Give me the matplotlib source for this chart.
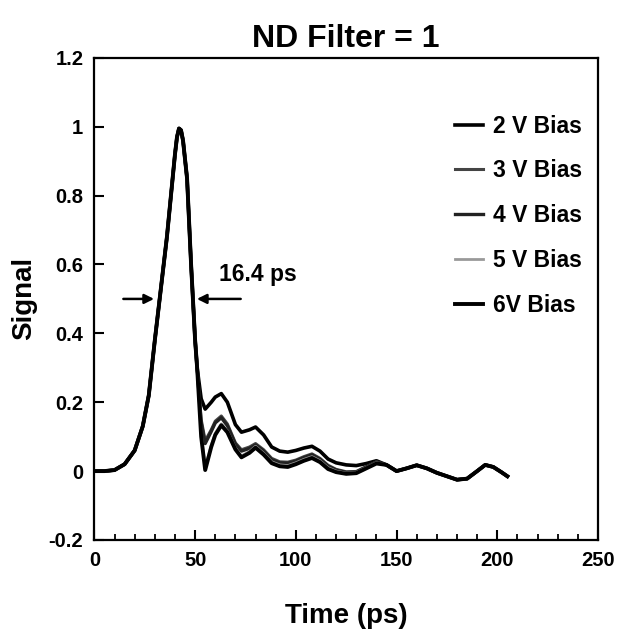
import matplotlib.pyplot as plt
from matplotlib.ticker import MultipleLocator

plt.rcParams['font.family'] = ['Liberation Sans', 'DejaVu Sans']

# time axis (ps)
t = [0, 5, 10, 15, 20, 24, 27, 30, 33, 36, 38, 40, 41, 42, 43, 44, 46, 48,
     50, 51, 53, 55, 58, 60, 63, 66, 70, 73, 77, 80, 84, 88, 92, 96, 100,
     104, 108, 112, 116, 120, 125, 130, 135, 140, 145, 150, 155, 160, 165,
     170, 175, 180, 185, 190, 194, 198, 202, 205]

rise = [0, 0, 0.003, 0.02, 0.06, 0.13, 0.22, 0.38, 0.53, 0.68, 0.80, 0.92,
        0.97, 0.995, 0.99, 0.96, 0.85, 0.60, 0.38, 0.30]

tail_end = [0.018, 0.0, 0.008, 0.017, 0.008, -0.005, -0.015, -0.025,
            -0.022, 0.0, 0.018, 0.012, -0.003, -0.015]

bias_2v = rise + [0.21, 0.18, 0.20, 0.215, 0.225, 0.20, 0.135, 0.113, 0.12,
                  0.128, 0.105, 0.07, 0.058, 0.055, 0.06, 0.067, 0.072,
                  0.058, 0.035, 0.024, 0.018, 0.016, 0.022, 0.03] + tail_end
bias_3v = rise + [0.15, 0.088, 0.12, 0.145, 0.16, 0.137, 0.082, 0.062, 0.07,
                  0.08, 0.062, 0.037, 0.027, 0.026, 0.032, 0.042, 0.05,
                  0.037, 0.017, 0.005, -0.002, -0.001, 0.013, 0.027] + tail_end
bias_4v = rise + [0.14, 0.08, 0.115, 0.14, 0.155, 0.132, 0.078, 0.058, 0.066,
                  0.076, 0.058, 0.033, 0.024, 0.023, 0.029, 0.039, 0.047,
                  0.034, 0.014, 0.003, -0.004, -0.003, 0.012, 0.026] + tail_end
bias_5v = rise + [0.11, 0.01, 0.075, 0.11, 0.137, 0.117, 0.067, 0.044, 0.057,
                  0.072, 0.052, 0.027, 0.018, 0.016, 0.024, 0.034, 0.042,
                  0.03, 0.01, 0.0, -0.006, -0.004, 0.01, 0.024] + tail_end
bias_6v = rise + [0.10, 0.003, 0.07, 0.105, 0.133, 0.113, 0.063, 0.04, 0.053,
                  0.068, 0.048, 0.023, 0.014, 0.012, 0.02, 0.03, 0.038,
                  0.026, 0.006, -0.003, -0.008, -0.006, 0.008, 0.022] + tail_end

labels = ['2 V Bias', '3 V Bias', '4 V Bias', '5 V Bias', '6V Bias']
series = [bias_2v, bias_3v, bias_4v, bias_5v, bias_6v]
colors = ['black', '#444444', '#222222', '#999999', 'black']
widths = [2.6, 2.2, 2.4, 2.0, 2.8]

fig = plt.figure(figsize=(6.21, 6.36), dpi=100)
ax = fig.add_axes([0.152, 0.151, 0.811, 0.758])

for y, lab, c, w in zip(series, labels, colors, widths):
    ax.plot(t, y, color=c, lw=w, label=lab, solid_joinstyle='round')

ax.set_xlim(0, 250)
ax.set_ylim(-0.2, 1.2)
ax.xaxis.set_major_locator(MultipleLocator(50))
ax.xaxis.set_minor_locator(MultipleLocator(10))
ax.yaxis.set_major_locator(MultipleLocator(0.2))
ax.yaxis.set_major_formatter(plt.FuncFormatter(lambda v, p: '%g' % round(v, 1)))
ax.tick_params(direction='in', which='major', length=7, width=1.5,
               labelsize=14.5, top=False, right=False, pad=8)
ax.tick_params(direction='in', which='minor', length=4, width=1.3,
               top=False, right=False)
for lbl in ax.get_xticklabels() + ax.get_yticklabels():
    lbl.set_fontweight('bold')
for s in ax.spines.values():
    s.set_linewidth(1.6)

ax.set_xlabel('Time (ps)', fontsize=20, fontweight='bold', labelpad=24)
ax.set_ylabel('Signal', fontsize=20, fontweight='bold', labelpad=8)
ax.set_title('ND Filter = 1', fontsize=23, fontweight='bold', pad=8)

# FWHM marker
ax.annotate('', xy=(31, 0.5), xytext=(13, 0.5),
            arrowprops=dict(arrowstyle='-|>', color='black', lw=1.8,
                            mutation_scale=14))
ax.annotate('', xy=(49.5, 0.5), xytext=(74, 0.5),
            arrowprops=dict(arrowstyle='-|>', color='black', lw=1.8,
                            mutation_scale=14))
ax.text(62, 0.57, '16.4 ps', fontsize=16.5, fontweight='bold',
        va='center', ha='left')

leg = ax.legend(loc='upper right', bbox_to_anchor=(1.01, 0.925), frameon=False,
                handlelength=1.2, handletextpad=0.45, labelspacing=0.95,
                prop={'size': 16.5, 'weight': 'bold'})

fig.savefig('out.png', dpi=100)
